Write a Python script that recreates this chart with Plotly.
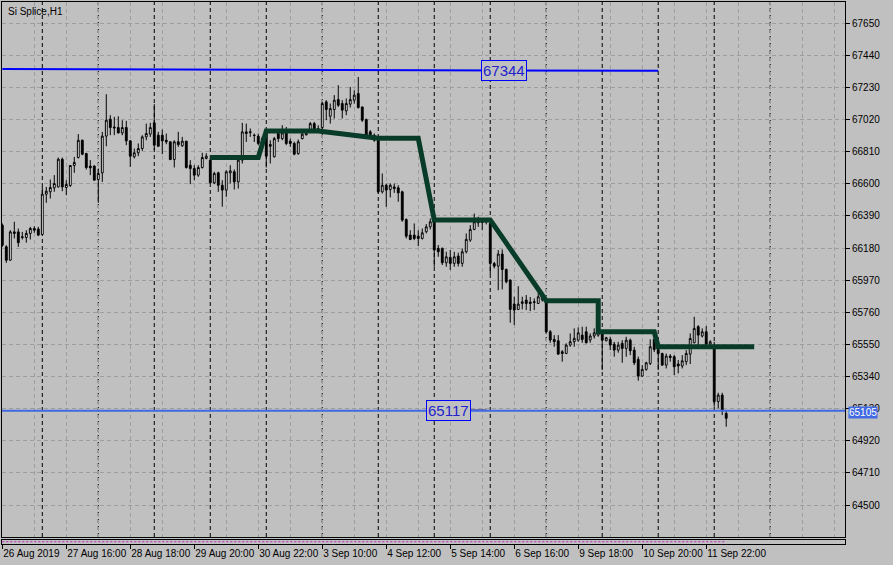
import plotly.graph_objects as go
import pandas as pd

# ---------------- data ----------------
trading_days = ["2019-08-26", "2019-08-27", "2019-08-28", "2019-08-29", "2019-08-30",
                "2019-09-02", "2019-09-03", "2019-09-04", "2019-09-05", "2019-09-06",
                "2019-09-09", "2019-09-10", "2019-09-11", "2019-09-12", "2019-09-13"]
session_hours = list(range(10, 24))
first_bar_time = "2019-08-26 14:00"

opens = [66330, 66188, 66101, 66286, 66286, 66254, 66249, 66276, 66308, 66304,
         66269, 66532, 66548, 66574, 66580, 66761, 66576, 66589, 66720, 66772,
         66885, 66798, 66716, 66716, 66628, 66672, 66912, 67023, 66971, 66968,
         66933, 66968, 66881, 66777, 66803, 66831, 66907, 66925, 66999, 66918,
         66918, 66885, 66875, 66759, 66875, 66849, 66879, 66722, 66700, 66657,
         66707, 66766, 66755, 66607, 66672, 66591, 66559, 66672, 66679, 66613,
         66755, 66940, 66935, 66918, 66912, 66896, 66929, 66857, 66777, 66929,
         66896, 66951, 66879, 66864, 66798, 66896, 66920, 66951, 66994, 66961,
         66968, 67136, 67042, 67086, 67151, 67125, 67077, 67121, 67147, 67190,
         67103, 67020, 66940, 66885, 66885, 66548, 66591, 66563, 66580, 66574,
         66548, 66367, 66265, 66265, 66258, 66243, 66287, 66319, 66352, 66178,
         66178, 66084, 66119, 66080, 66128, 66080, 66156, 66232, 66302, 66345,
         66352, 66350, 66341, 66079, 66062, 66141, 66040, 65971, 65814, 65779,
         65818, 65840, 65827, 65829, 65818, 65842, 65829, 65633, 65583, 65574,
         65502, 65491, 65546, 65568, 65578, 65611, 65633, 65579, 65605, 65611,
         65622, 65574, 65583, 65552, 65513, 65557, 65524, 65578, 65513, 65452,
         65343, 65387, 65426, 65583, 65517, 65491, 65415, 65474, 65470, 65422,
         65409, 65437, 65487, 65561, 65666, 65605, 65633, 65552, 65540, 65176,
         65219, 65099]
highs = [66341, 66199, 66297, 66352, 66308, 66286, 66297, 66319, 66323, 66319,
         66580, 66580, 66628, 66657, 66772, 66772, 66624, 66722, 66776, 66925,
         66890, 66803, 66755, 66722, 66700, 66940, 67186, 67049, 67038, 67042,
         67016, 67012, 66885, 66831, 66864, 66918, 66994, 66999, 67121, 66940,
         66955, 66929, 66875, 66885, 66940, 66907, 66881, 66755, 66722, 66722,
         66803, 66800, 66766, 66679, 66679, 66624, 66689, 66722, 66694, 66776,
         66999, 66994, 66962, 66929, 66929, 66910, 66951, 66885, 66907, 66940,
         66983, 66972, 66896, 66875, 66890, 66947, 66951, 67005, 67005, 66983,
         67136, 67147, 67125, 67180, 67245, 67147, 67158, 67234, 67212, 67299,
         67103, 67027, 66951, 66929, 66896, 66668, 66602, 66602, 66602, 66591,
         66555, 66374, 66297, 66341, 66297, 66308, 66337, 66374, 66363, 66200,
         66184, 66156, 66167, 66156, 66150, 66178, 66276, 66330, 66406, 66385,
         66370, 66370, 66358, 66090, 66167, 66171, 66047, 65975, 65862, 65931,
         65862, 65873, 65860, 65851, 65894, 65890, 65840, 65644, 65611, 65611,
         65513, 65557, 65622, 65655, 65661, 65666, 65666, 65622, 65655, 65655,
         65633, 65600, 65600, 65567, 65567, 65578, 65600, 65589, 65535, 65470,
         65415, 65437, 65583, 65594, 65535, 65496, 65491, 65487, 65480, 65448,
         65480, 65513, 65622, 65731, 65676, 65655, 65670, 65578, 65567, 65234,
         65234, 65121]
lows = [66188, 66084, 66097, 66243, 66188, 66236, 66215, 66236, 66280, 66258,
        66265, 66476, 66504, 66548, 66576, 66552, 66526, 66580, 66672, 66766,
        66787, 66694, 66657, 66624, 66476, 66613, 66846, 66918, 66918, 66929,
        66918, 66853, 66711, 66766, 66781, 66816, 66885, 66907, 66820, 66842,
        66794, 66859, 66755, 66707, 66842, 66842, 66700, 66598, 66624, 66646,
        66700, 66760, 66602, 66598, 66548, 66450, 66515, 66602, 66563, 66569,
        66733, 66874, 66907, 66874, 66853, 66850, 66707, 66733, 66772, 66874,
        66885, 66853, 66842, 66787, 66790, 66890, 66918, 66947, 66951, 66940,
        66947, 67016, 66994, 67027, 67103, 67027, 67049, 67099, 67125, 67092,
        67005, 66907, 66900, 66875, 66537, 66537, 66450, 66511, 66541, 66483,
        66352, 66243, 66232, 66232, 66193, 66236, 66276, 66302, 66058, 66123,
        66069, 66058, 66037, 66058, 66060, 66058, 66145, 66221, 66297, 66319,
        66297, 66335, 66010, 66047, 65905, 65910, 65949, 65692, 65677, 65775,
        65779, 65775, 65768, 65775, 65814, 65830, 65622, 65561, 65535, 65481,
        65437, 65487, 65535, 65535, 65568, 65561, 65557, 65561, 65589, 65600,
        65382, 65570, 65513, 65470, 65496, 65430, 65470, 65480, 65415, 65313,
        65339, 65378, 65415, 65500, 65382, 65409, 65393, 65437, 65350, 65361,
        65393, 65415, 65422, 65557, 65546, 65596, 65546, 65535, 65143, 65132,
        65088, 65012]
closes = [66199, 66101, 66286, 66276, 66215, 66250, 66276, 66308, 66297, 66265,
          66533, 66552, 66576, 66602, 66761, 66580, 66596, 66720, 66740, 66885,
          66794, 66707, 66705, 66624, 66668, 66912, 67016, 66968, 66966, 66933,
          66968, 66881, 66781, 66803, 66831, 66907, 66929, 66968, 66853, 66846,
          66881, 66875, 66759, 66875, 66857, 66879, 66707, 66700, 66657, 66707,
          66772, 66781, 66607, 66668, 66591, 66559, 66679, 66685, 66613, 66755,
          66940, 66929, 66940, 66916, 66864, 66864, 66781, 66846, 66896, 66896,
          66933, 66864, 66864, 66794, 66875, 66925, 66927, 66994, 66955, 66955,
          67125, 67086, 67092, 67147, 67114, 67082, 67125, 67151, 67180, 67099,
          67016, 66918, 66907, 66918, 66548, 66591, 66559, 66591, 66570, 66541,
          66363, 66258, 66236, 66243, 66243, 66280, 66319, 66352, 66167, 66156,
          66084, 66123, 66080, 66123, 66080, 66156, 66237, 66302, 66352, 66355,
          66348, 66356, 66080, 66062, 66141, 66040, 65960, 65779, 65775, 65814,
          65829, 65818, 65818, 65825, 65862, 65870, 65633, 65579, 65568, 65487,
          65491, 65546, 65568, 65590, 65626, 65583, 65561, 65605, 65626, 65633,
          65578, 65594, 65546, 65513, 65546, 65524, 65578, 65509, 65430, 65343,
          65387, 65430, 65535, 65517, 65491, 65415, 65474, 65465, 65404, 65409,
          65443, 65491, 65589, 65655, 65611, 65633, 65552, 65567, 65176, 65219,
          65117, 65067]

# thick dark-green indicator (bar index, price) breakpoints
ind_bars = [52, 64, 66, 79, 94, 104, 108, 122, 136, 149, 149, 163, 164, 188]
ind_vals = [66772, 66772, 66946, 66946, 66898, 66898, 66364, 66364,
            65836, 65836, 65633, 65633, 65535, 65535]

# drawn objects
top_line_bars = [0, 164]
top_line_vals = [67351, 67339]
top_line_label = "67344"
top_label_bar = 125.4
hline_val = 65117
hline_label = "65117"
hline_label_bar = 111.5
stub_bars = [117, 121]
stub_vals = [65121, 65121]
last_price = 65105

y_ticks = [64500, 64710, 64920, 65130, 65340, 65550, 65760, 65970,
           66180, 66390, 66600, 66810, 67020, 67230, 67440, 67650]
x_tick_labels = ["26 Aug 2019", "27 Aug 16:00", "28 Aug 18:00", "29 Aug 20:00",
                 "30 Aug 22:00", "3 Sep 10:00", "4 Sep 12:00", "5 Sep 14:00",
                 "6 Sep 16:00", "9 Sep 18:00", "10 Sep 20:00", "11 Sep 22:00"]
title_text = "Si Splice,H1"

# ---------------- derived ----------------
all_times = [pd.Timestamp(d) + pd.Timedelta(hours=h) for d in trading_days for h in session_hours]
start = all_times.index(pd.Timestamp(first_bar_time))
bar_times = all_times[start:]
bar_idx = list(range(len(opens)))
bar_names = [f"{t.day} {t.strftime('%b %H:%M')}" for t in bar_times]
tick_vals = [0] + [bar_names.index(lbl) for lbl in x_tick_labels[1:]]
separators = [i for i, t in enumerate(bar_times) if t.hour == session_hours[0] and i > 0]

BG = "#C0C0C0"
GRID = "#9e9e9e"
FONT = "Liberation Sans, Arial, sans-serif"

fig = go.Figure()
fig.add_trace(go.Candlestick(
    x=bar_idx, open=opens, high=highs, low=lows, close=closes,
    increasing=dict(fillcolor="white", line=dict(color="black", width=1)),
    decreasing=dict(fillcolor="black", line=dict(color="black", width=1)),
    whiskerwidth=0, xaxis="x", yaxis="y", showlegend=False, hoverinfo="skip"))
fig.add_trace(go.Scatter(x=top_line_bars, y=top_line_vals, mode="lines",
                         line=dict(color="#0000FF", width=2), xaxis="x", yaxis="y",
                         showlegend=False, hoverinfo="skip"))
fig.add_trace(go.Scatter(x=stub_bars, y=stub_vals, mode="lines",
                         line=dict(color="#10107a", width=1), xaxis="x", yaxis="y",
                         showlegend=False, hoverinfo="skip"))
fig.add_trace(go.Scatter(x=ind_bars, y=ind_vals, mode="lines",
                         line=dict(color="#083c29", width=5), xaxis="x", yaxis="y",
                         showlegend=False, hoverinfo="skip"))
# thin sub-window strip under the chart (dotted magenta marker row, one dot per bar)
fig.add_trace(go.Scatter(x=bar_idx, y=[0.5] * len(bar_idx), mode="lines",
                         line=dict(color="#c020c0", width=1, dash="2px,2px"),
                         xaxis="x2", yaxis="y2", showlegend=False, hoverinfo="skip"))

H = 565
top_m, bot_m = 2, 21
area_h = H - top_m - bot_m
main_bottom = (544 - 537) / area_h
strip_top = (544 - 539.5) / area_h
dash = "4px,3px"

xr = [-0.075, 210.7]
fig.update_layout(
    width=893, height=H,
    margin=dict(l=2, r=48, t=top_m, b=bot_m, pad=0, autoexpand=False),
    paper_bgcolor=BG, plot_bgcolor=BG,
    font=dict(family=FONT, size=10, color="black"),
    boxgap=0.35,
    showlegend=False,
    xaxis=dict(domain=[0, 1], anchor="y", range=xr, rangeslider=dict(visible=False),
               tickmode="linear", tick0=0, dtick=8, showticklabels=False, ticks="",
               showgrid=True, gridcolor=GRID, griddash=dash, gridwidth=1, automargin=False,
               showline=True, mirror=True, linecolor="black", linewidth=1, zeroline=False),
    yaxis=dict(domain=[main_bottom, 1], anchor="x", side="right", range=[64291, 67789],
               tickmode="array", tickvals=y_ticks, ticktext=[str(v) for v in y_ticks],
               ticks="outside", ticklen=4, tickcolor="black", automargin=False,
               showgrid=True, gridcolor=GRID, griddash=dash, gridwidth=1,
               showline=True, mirror=True, linecolor="black", linewidth=1, zeroline=False,
               tickfont=dict(size=10, family=FONT, color="black")),
    xaxis2=dict(domain=[0, 1], anchor="y2", range=xr,
                tickmode="array", tickvals=tick_vals, ticktext=x_tick_labels,
                ticks="outside", ticklen=4, tickcolor="black", tickangle=0,
                ticklabelposition="outside right", automargin=False,
                showgrid=False, showline=True, mirror=True, linecolor="black", linewidth=1,
                zeroline=False, tickfont=dict(size=10, family=FONT, color="black")),
    yaxis2=dict(domain=[0, strip_top], anchor="x2", range=[0, 1], showticklabels=False,
                ticks="", showgrid=False, showline=True, mirror=True, linecolor="black",
                linewidth=1, zeroline=False, automargin=False),
)

shapes = []
for s in separators:
    shapes.append(dict(type="line", xref="x", yref="y domain", x0=s, x1=s, y0=0, y1=1,
                       line=dict(color="black", width=1, dash=dash), layer="below"))
shapes.append(dict(type="line", xref="paper", yref="y", x0=0, x1=1, y0=hline_val, y1=hline_val,
                   line=dict(color="#4169E1", width=2), layer="above"))
fig.update_layout(shapes=shapes)

annotations = [
    dict(text=title_text, xref="paper", yref="paper", x=0, y=1, xanchor="left", yanchor="top",
         xshift=4, yshift=-2, showarrow=False, font=dict(size=10, family=FONT, color="black")),
    dict(text=top_line_label, xref="x", yref="y", x=top_label_bar, y=67344, showarrow=False,
         font=dict(size=15, family=FONT, color="#2222cc"), bgcolor=BG,
         bordercolor="#0000FF", borderwidth=1, borderpad=1),
    dict(text=hline_label, xref="x", yref="y", x=hline_label_bar, y=hline_val, showarrow=False,
         font=dict(size=15, family=FONT, color="#2222cc"), bgcolor=BG,
         bordercolor="#0000FF", borderwidth=1, borderpad=1),
    dict(text=str(last_price), xref="paper", yref="y", x=1, y=last_price, xanchor="left",
         xshift=3, showarrow=False, font=dict(size=10, family=FONT, color="white"),
         bgcolor="#4169E1", borderpad=0),
]
fig.update_layout(annotations=annotations)

fig.write_html("out.html", config={"displayModeBar": False},
               post_script="document.body.style.margin='0';document.body.style.padding='0';"
                           "document.body.style.overflow='hidden';")
